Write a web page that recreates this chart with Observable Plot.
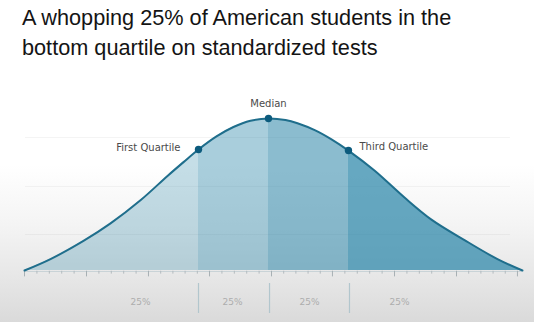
<!DOCTYPE html>
<html>
<head>
<meta charset="utf-8">
<script src="https://cdn.jsdelivr.net/npm/d3@7"></script>
<script src="https://cdn.jsdelivr.net/npm/@observablehq/plot@0.6"></script>
<style>
  html, body { margin: 0; padding: 0; }
  body {
    width: 534px; height: 322px; overflow: hidden;
    background: linear-gradient(to bottom, #ffffff 0px, #ffffff 165px, #f4f4f4 225px, #e6e6e6 280px, #dadada 322px);
  }
  #title {
    box-sizing: border-box; height: 64px; padding: 2.5px 0 0 22px;
    font-family: "Liberation Sans", Arial, sans-serif; font-size: 21.7px; line-height: 30px;
    color: #141414;
  }
  #chart svg { display: block; }
</style>
</head>
<body>
<div id="title">A whopping 25% of American students in the<br>bottom quartile on standardized tests</div>
<div id="chart"></div>
<script>
// Curve: x in standard-score units, y = density relative to the peak
const curveX = [-2.346, -2.096, -1.779, -1.519, -1.231, -0.971, -0.817, -0.673, -0.5, -0.337, -0.173, 0, 0.163, 0.279, 0.45, 0.606, 0.769, 1.019, 1.308, 1.567, 1.885, 2.202, 2.442];
const curveY = [0, 0.075, 0.195, 0.31, 0.462, 0.622, 0.713, 0.796, 0.882, 0.944, 0.985, 1, 0.99, 0.969, 0.922, 0.863, 0.789, 0.658, 0.48, 0.335, 0.2, 0.075, 0];

// Quartile markers
const markerNames = ["First Quartile", "Median", "Third Quartile"];
const markerX = [-0.673, 0, 0.769];
const markerY = [0.796, 1, 0.789];

// Segment boundaries (quartiles) and share labels
const segBounds = [-Infinity, -0.673, 0, 0.769, Infinity];
const segOpacity = [0.27, 0.40, 0.54, 0.71];
const shareLabels = ["25%", "25%", "25%", "25%"];
const shareX = [-1.231, -0.346, 0.394, 1.26];
const separatorX = [-0.673, 0.01, 0.779];

// Axis ticks
const majorTicks = [-2.346, -1.750, -1.154, -0.567, 0.029, 0.615, 1.212, 1.808, 2.394];

// Faint gridlines
const gridY = [0.875, 0.553, 0.237];

const curve = curveX.map((x, i) => ({x, y: curveY[i]}));
const markers = markerNames.map((name, i) => ({name, x: markerX[i], y: markerY[i]}));
const shares = shareLabels.map((t, i) => ({t, x: shareX[i]}));
const minorTicks = [];
for (let i = 0; i < majorTicks.length - 1; i++) {
  const a = majorTicks[i], b = majorTicks[i + 1];
  for (let k = 1; k < 5; k++) minorTicks.push(a + (b - a) * k / 5);
}

const segMarks = segOpacity.map((op, s) =>
  Plot.areaY(curve.filter(d => d.x >= segBounds[s] && d.x <= segBounds[s + 1]), {
    x: "x", y: "y", fill: "#2884a7", fillOpacity: op, curve: "catmull-rom"
  })
);

const labelFont = "DejaVu Sans, sans-serif";

const chart = Plot.plot({
  width: 534,
  height: 258,
  marginTop: 54,
  marginBottom: 52,
  marginLeft: 0,
  marginRight: 0,
  x: {domain: [-2.577, 2.558], axis: null},
  y: {domain: [0, 1], axis: null},
  style: {background: "transparent", overflow: "visible"},
  marks: [
    Plot.ruleY(gridY, {x1: -2.337, x2: 2.327, stroke: "#000", strokeOpacity: 0.045}),
    ...segMarks,
    Plot.ruleY([0], {x1: -2.346, x2: 2.442, stroke: "#c9d3d7", strokeWidth: 1, dy: 1}),
    Plot.ruleX(majorTicks, {x: d => d, y1: -0.005, y2: -0.042, stroke: "#a7b0b4", strokeWidth: 1}),
    Plot.ruleX(minorTicks, {x: d => d, y1: -0.005, y2: -0.024, stroke: "#b3bbbf", strokeWidth: 1}),
    Plot.line(curve, {x: "x", y: "y", stroke: "#1f6e8c", strokeWidth: 2, curve: "catmull-rom"}),
    Plot.dot(markers, {x: "x", y: "y", r: 3.7, fill: "#0c5b7d", stroke: "none"}),
    Plot.text(["Median"], {x: 0, y: 1.099, text: d => d, fontFamily: labelFont, fontSize: 10, fill: "#4a4a4a", textAnchor: "middle"}),
    Plot.text(["First Quartile"], {x: -0.846, y: 0.809, text: d => d, fontFamily: labelFont, fontSize: 10, fill: "#4a4a4a", textAnchor: "end"}),
    Plot.text(["Third Quartile"], {x: 0.875, y: 0.816, text: d => d, fontFamily: labelFont, fontSize: 10, fill: "#4a4a4a", textAnchor: "start"}),
    Plot.ruleX(separatorX, {x: d => d, y1: -0.0855, y2: -0.283, stroke: "#b2c6cd", strokeWidth: 1.2}),
    Plot.text(shares, {x: "x", y: -0.21, text: "t", fontFamily: labelFont, fontSize: 9, fill: "#adadad", textAnchor: "middle"})
  ]
});
document.getElementById("chart").appendChild(chart);
</script>
</body>
</html>
